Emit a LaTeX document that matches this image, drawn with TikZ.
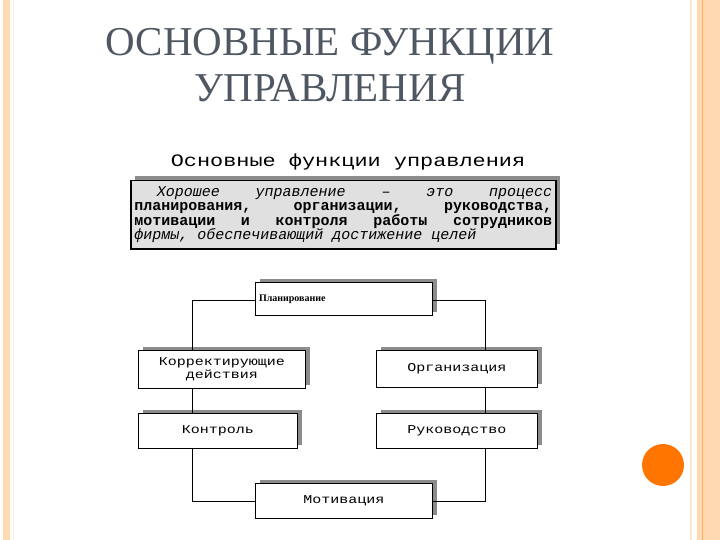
\documentclass[tikz,border=0pt]{standalone}
\usepackage{fontspec}
\setmainfont{Liberation Serif}
\newfontfamily\monof{Liberation Mono}
\newfontfamily\widef[FakeStretch=1.25]{Liberation Mono}
\definecolor{titlec}{HTML}{4F5862}
\begin{document}
\begin{tikzpicture}[x=1pt,y=-1pt,
  fbox/.style={draw=black,line width=1pt,fill=white,minimum height=#1,inner sep=2pt,
    font=\widef\fontsize{12}{13}\selectfont, align=center,
    preaction={draw=none,fill=black!45,transform canvas={xshift=4pt,yshift=4pt}}},
  conn/.style={draw=black,line width=0.6pt}]
\useasboundingbox (0,0) rectangle (720,540);
\fill[white] (0,0) rectangle (720,540);
% decorations
\fill[orange!30!white] (3,0) rectangle (10,540);
\draw[orange!15,line width=1pt] (13,0) -- (13,540);
\draw[orange!20,line width=1.5pt] (691,0) -- (691,540);
\fill[orange!30!white] (697,0) rectangle (720,540);
\draw[orange!60,line width=1pt] (702,0) -- (702,540);
\fill[orange!80!red!90!yellow] (663,465) circle (21);
% title
\node[font=\fontsize{41}{41}\selectfont,text=titlec] (t1) at (330,46) {ОСНОВНЫЕ ФУНКЦИИ};
\node[font=\fontsize{41}{41}\selectfont,text=titlec] (t2) at (330,88) {УПРАВЛЕНИЯ};
\node[font=\widef\fontsize{17.5}{17.5}\selectfont] (st) at (348,162) {Основные функции управления};
% definition box
\fill[black!45] (135,176) rectangle (560,244);
\node[draw=black,line width=1.5pt,fill=black!12,minimum width=425pt,minimum height=68pt,anchor=north west,inner sep=3pt] (def) at (130,180)
 {\parbox{418pt}{\monof\fontsize{15}{14.5}\selectfont
 \hspace*{1.5em}\textit{Хорошее}\hfill\textit{управление}\hfill–\hfill\textit{это}\hfill\textit{процесс}\par
 \textbf{планирования,}\hfill\textbf{организации,}\hfill\textbf{руководства,}\par
 \textbf{мотивации}\hfill\textbf{и}\hfill\textbf{контроля}\hfill\textbf{работы}\hfill\textbf{сотрудников}\par
 \textit{фирмы, обеспечивающий достижение целей}}};
% boxes
\node[fbox=33pt,minimum width=177pt,anchor=north west,align=left,text width=170pt,font=\bfseries\fontsize{10}{10}\selectfont] (plan) at (255,282) {Планирование};
\node[fbox=38pt,minimum width=167pt,anchor=north west] (korr) at (138,350) {Корректирующие\\действия};
\node[fbox=37pt,minimum width=161pt,anchor=north west] (org) at (376,350) {Организация};
\node[fbox=35pt,minimum width=159pt,anchor=north west] (kontr) at (138,413) {Контроль};
\node[fbox=35pt,minimum width=161pt,anchor=north west] (ruk) at (376,413) {Руководство};
\node[fbox=35pt,minimum width=177pt,anchor=north west] (mot) at (255,483) {Мотивация};
% connectors
\coordinate (lp) at (255,300);
\coordinate (rp) at (432,300);
\draw[conn] (lp) -| (korr.north -| 192,0);
\draw[conn] (rp) -| (org.north -| 485,0);
\draw[conn] (korr.south -| 192,0) -- (kontr.north -| 192,0);
\draw[conn] (org.south -| 485,0) -- (ruk.north -| 485,0);
\draw[conn] (kontr.south -| 192,0) |- (mot.west);
\draw[conn] (ruk.south -| 485,0) |- (mot.east);
\end{tikzpicture}
\end{document}
